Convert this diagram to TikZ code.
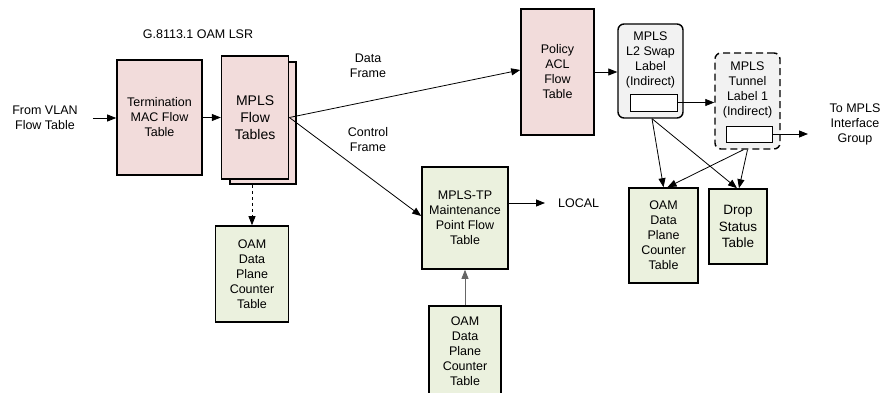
\documentclass[tikz,border=0pt]{standalone}
\usepackage{fontspec}
\setmainfont{Liberation Sans}
\usetikzlibrary{arrows.meta,positioning}

\definecolor{tblpink}{HTML}{F2DCDB}
\definecolor{tblgreen}{HTML}{EBF1DE}
\definecolor{lblgray}{HTML}{F2F2F2}

\tikzset{
  tbl/.style={draw, line width=1.6pt, inner sep=0pt, align=center, font=\fontsize{12.5}{15}\selectfont},
  pinktbl/.style={tbl, fill=tblpink},
  greentbl/.style={tbl, fill=tblgreen},
  lbl/.style={draw, fill=lblgray, rounded corners=6pt, line width=1.4pt, inner sep=0pt},
  slot/.style={draw, fill=white, line width=0.8pt, inner sep=0pt, minimum width=47pt, minimum height=17pt},
  txt/.style={align=center, inner sep=0pt, font=\fontsize{12.5}{15}\selectfont},
  arr/.style={line width=0.8pt, -{Triangle[length=9pt,width=7pt]}}
}

\begin{document}
\begin{tikzpicture}[x=1pt, y=-1pt]
  \useasboundingbox (0,0) rectangle (881,393);
  \clip (0,0) rectangle (881,393);
  \node [txt] (lsr) at (198,34) {G.8113.1 OAM LSR};
  \node [txt] (vlan) at (45,118) {From VLAN\\Flow Table};
  \node [pinktbl, minimum width=85pt, minimum height=115pt] (term) at (159.5,117.5) {Termination\\MAC Flow\\Table};
  \node [pinktbl, draw=black, minimum width=66pt, minimum height=122pt] (flowback) at (263,123) {};
  \node [pinktbl, minimum width=67pt, minimum height=123pt, font=\fontsize{14}{17}\selectfont, right=18pt of term] (flow) {MPLS\\Flow\\Tables};
  \node [greentbl, minimum width=73pt, minimum height=96pt] (oam1) at (252,274) {OAM\\Data\\Plane\\Counter\\Table};
  \node [pinktbl, minimum width=73pt, minimum height=126pt] (policy) at (557.5,72) {Policy\\ACL\\Flow\\Table};
  \node [txt] (data) at (368,66) {Data\\Frame};
  \node [txt] (ctrl) at (368,140) {Control\\Frame};
  \node [greentbl, minimum width=86pt, minimum height=102pt] (mpt) at (465,218) {MPLS-TP\\Maintenance\\Point Flow\\Table};
  \node [greentbl, minimum width=72pt, minimum height=90pt] (oam2) at (465,351) {OAM\\Data\\Plane\\Counter\\Table};
  \node [txt, anchor=west] (local) at (558,203) {LOCAL};

  \node [lbl, minimum width=65pt, minimum height=94pt] (swap) at (650.5,71) {};
  \node [txt] (swaptxt) at (650.5,60) {MPLS\\L2 Swap\\Label\\(Indirect)};
  \node [slot] (swapslot) at (653.5,102.5) {};
  \node [lbl, dashed, dash pattern=on 7pt off 4pt, minimum width=65pt, minimum height=96pt] (tunnel) at (747.5,101) {};
  \node [txt] (tuntxt) at (747.5,89.5) {MPLS\\Tunnel\\Label 1\\(Indirect)};
  \node [slot, minimum width=46pt, minimum height=16pt] (tunslot) at (749,134) {};
  \node [txt] (tompls) at (855,124) {To MPLS\\Interface\\Group};
  \coordinate (tunout) at (808,134);

  \node [greentbl, minimum width=69pt, minimum height=95pt] (oam3) at (663.5,235.5) {OAM\\Data\\Plane\\Counter\\Table};
  \node [greentbl, minimum width=58pt, minimum height=75pt, font=\fontsize{13.5}{16.5}\selectfont] (drop) at (738,226.5) {Drop\\Status\\Table};

  \draw [arr, shorten <=15pt] (vlan.east) -- (vlan.east -| term.west);
  \draw [arr] (term) -- (flow);
  \draw [arr] (flow.east) -- ([yshift=2pt]policy.west);
  \draw [arr] (flow.east) -- ([yshift=2pt]mpt.west);
  \draw [arr, dashed] (oam1.north |- flowback.south) -- (oam1.north);
  \draw [arr, draw=black!60] (oam2.north) -- (oam2.north |- mpt.south);
  \draw [arr, shorten >=13pt] (mpt.east |- local.west) -- (local.west);
  \draw [arr] (policy.east) -- (policy.east -| swap.west);
  \draw [arr] (swapslot.east) -- (swapslot.east -| tunnel.west);
  \draw [arr] (tunslot.east) -- (tunout);
  \draw [arr] ([xshift=1.5pt]swap.south) -- (oam3.north);
  \draw [arr] ([xshift=1.5pt]swap.south) -- ([xshift=-1pt]drop.north);
  \draw [arr] ([xshift=-4pt]tunnel.south) -- ([xshift=4pt]oam3.north);
  \draw [arr] (tunnel.south) -- ([xshift=1pt]drop.north);
\end{tikzpicture}
\end{document}
